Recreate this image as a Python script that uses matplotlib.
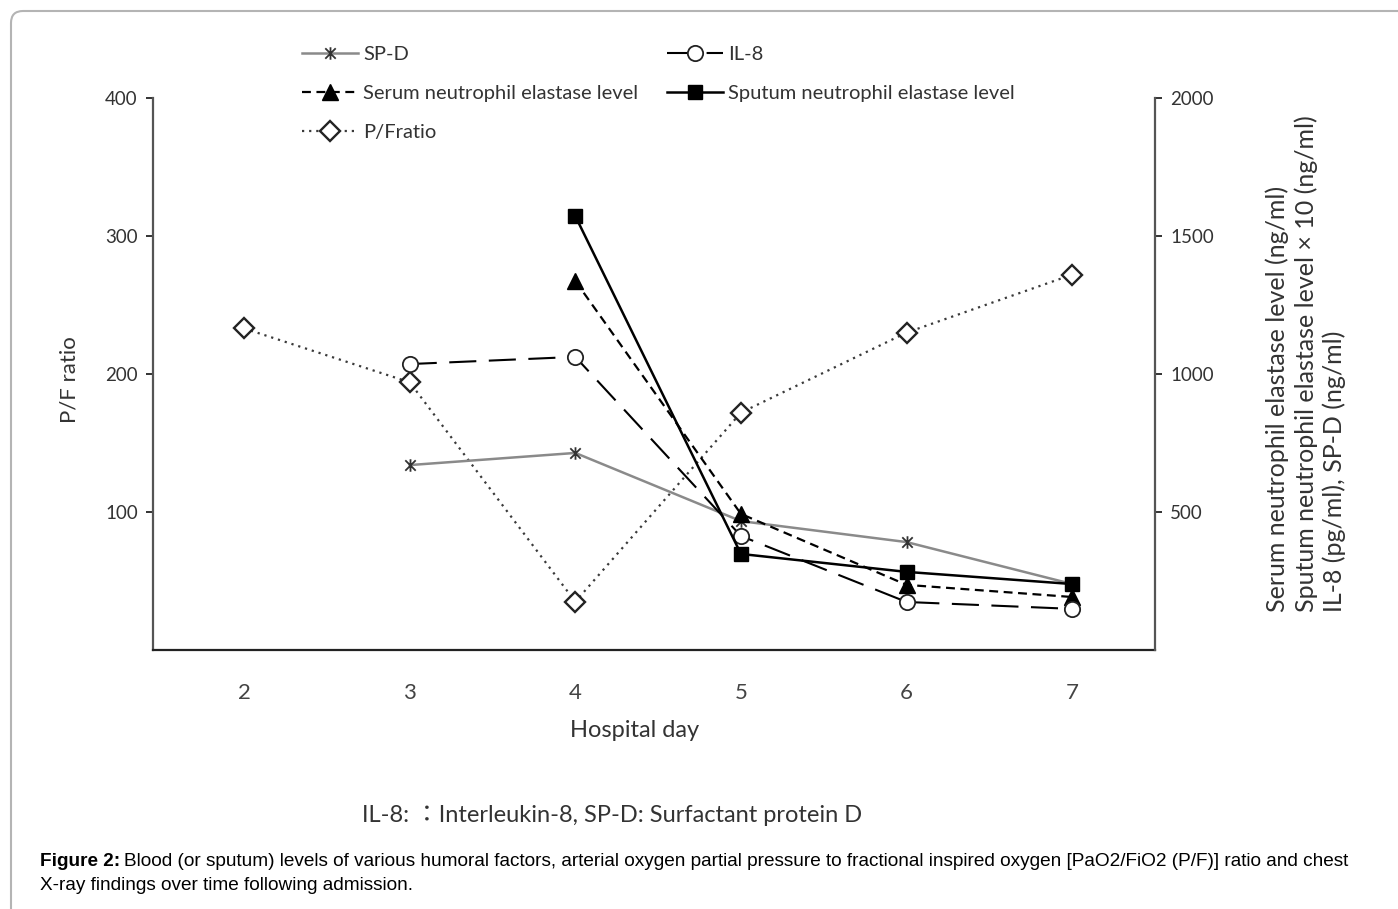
import matplotlib.pyplot as plt
from matplotlib.path import Path
from matplotlib.patches import FancyBboxPatch
from matplotlib.transforms import IdentityTransform

plt.rcParams['font.family'] = ['Lato', 'DejaVu Sans']

W, H = 1398, 909

# Hospital days
days = [2, 3, 4, 5, 6, 7]

# P/F ratio (left axis)
pf_days = [2, 3, 4, 5, 6, 7]
pf_ratio = [233, 194, 35, 172, 230, 272]

# right axis series
spd_days = [3, 4, 5, 6, 7]
spd = [670, 714, 467, 391, 239]

il8_days = [3, 4, 5, 6, 7]
il8 = [1036, 1062, 413, 174, 149]

serum_days = [4, 5, 6, 7]
serum_ne = [1337, 493, 236, 192]

sputum_days = [4, 5, 6, 7]
sputum_ne = [1572, 348, 283, 239]

# asterisk marker: x plus vertical bar
star = Path([(-1, -1), (1, 1), (-1, 1), (1, -1), (0, -1.2), (0, 1.2)],
            [Path.MOVETO, Path.LINETO, Path.MOVETO, Path.LINETO, Path.MOVETO, Path.LINETO])

fig = plt.figure(figsize=(W / 100, H / 100), dpi=100)
ax = fig.add_axes([153 / W, 1 - 650 / H, (1155 - 153) / W, (650 - 98) / H])
ax2 = ax.twinx()

# P/F ratio on left axis
ax.plot(pf_days, pf_ratio, color='#3a3a3a', lw=1.6, ls=(0, (1, 2.2)),
        marker='D', ms=10.5, mfc='white', mec='#222222', mew=1.7, label='P/Fratio', zorder=3)

ax2.plot(spd_days, spd, color='#8a8a8a', lw=1.8, marker=star, ms=9, mfc='none',
         mec='#333333', mew=1.3, label='SP-D')
ax2.plot(serum_days, serum_ne, color='black', lw=1.6, ls=(0, (4, 2.5)),
         marker='^', ms=11, mfc='black', mec='black', label='Serum neutrophil elastase level')
ax2.plot(il8_days, il8, color='black', lw=1.5, ls=(0, (13, 6)),
         marker='o', ms=11, mfc='white', mec='#222222', mew=1.3, label='IL-8')
ax2.plot(sputum_days, sputum_ne, color='black', lw=1.8,
         marker='s', ms=10, mfc='black', mec='black', label='Sputum neutrophil elastase level')

ax.set_xlim(1.45, 7.5)
ax.set_ylim(0, 400)
ax2.set_ylim(0, 2000)
ax.set_yticks([100, 200, 300, 400])
ax2.set_yticks([500, 1000, 1500, 2000])
ax.set_xticks(days)
ax.set_xticklabels([str(d) for d in days])

for a in (ax, ax2):
    a.spines['top'].set_visible(False)
    a.set_facecolor('none')
ax.spines['right'].set_visible(False)
ax2.spines['left'].set_visible(False)
ax2.spines['bottom'].set_visible(False)
ax.spines['left'].set_color('#555555')
ax.spines['left'].set_linewidth(1.6)
ax2.spines['right'].set_color('#555555')
ax2.spines['right'].set_linewidth(1.6)
ax.spines['bottom'].set_color('#222222')
ax.spines['bottom'].set_linewidth(1.6)

ax.tick_params(axis='y', length=5, width=1.4, color='#333333', labelsize=13.5, labelcolor='#333333', pad=6)
ax2.tick_params(axis='y', length=5, width=1.4, color='#333333', labelsize=13.5, labelcolor='#333333', pad=6)
ax.tick_params(axis='x', length=0, labelsize=16, labelcolor='#444444', pad=24)

ax.set_xlabel('Hospital day', fontsize=17, color='#333333')
ax.xaxis.set_label_coords((635 - 153) / 1002, (650 - 720) / 552)
ax.set_ylabel('P/F ratio', fontsize=16, color='#333333')
ax.yaxis.set_label_coords((80 - 153) / 1002, (650 - 380) / 552)

fig.text(1306 / W, 1 - 612 / H,
         'Serum neutrophil elastase level (ng/ml)\n'
         'Sputum neutrophil elastase level \u00d7 10 (ng/ml)\n'
         'IL-8 (pg/ml), SP-D (ng/ml)',
         rotation=90, ha='center', va='bottom', multialignment='left',
         fontsize=18, color='#333333', linespacing=1.25)

h1, l1 = ax.get_legend_handles_labels()
h2, l2 = ax2.get_legend_handles_labels()
handles = h2[:2] + h1 + h2[2:]
labels = l2[:2] + l1 + l2[2:]
fig.legend(handles, labels, loc='upper left', bbox_to_anchor=(302 / W, 1 - 46 / H),
           ncol=2, frameon=False, fontsize=14.5, handlelength=2.8, handletextpad=0.25,
           columnspacing=1.4, labelspacing=1.08, borderpad=0, borderaxespad=0,
           labelcolor='#333333')

fig.text(362 / W, 1 - 815 / H, 'IL-8: \uff1aInterleukin-8, SP-D: Surfactant protein D',
         fontsize=17, color='#333333', va='center', family=['Lato', 'Noto Sans CJK JP'])

cap_y = 1 - 862 / H
t1 = fig.text(40 / W, cap_y, 'Figure 2:', fontsize=13.7, weight='bold',
              family='Liberation Sans', va='center')
fig.canvas.draw()
bb = t1.get_window_extent(renderer=fig.canvas.get_renderer())
fig.text(bb.x1 / W + 4 / W, cap_y,
         'Blood (or sputum) levels of various humoral factors, arterial oxygen partial pressure '
         'to fractional inspired oxygen [PaO2/FiO2 (P/F)] ratio and chest',
         fontsize=13.7, family='Liberation Sans', va='center')
fig.text(40 / W, 1 - 886 / H, 'X-ray findings over time following admission.',
         fontsize=13.7, family='Liberation Sans', va='center')

border = FancyBboxPatch((11, -60), 1500, 898 + 60, boxstyle='round,pad=0,rounding_size=12',
                        transform=IdentityTransform(), fill=False, ec='#b4b4b4', lw=1.5)
fig.add_artist(border)

fig.savefig('out.png', dpi=100)
